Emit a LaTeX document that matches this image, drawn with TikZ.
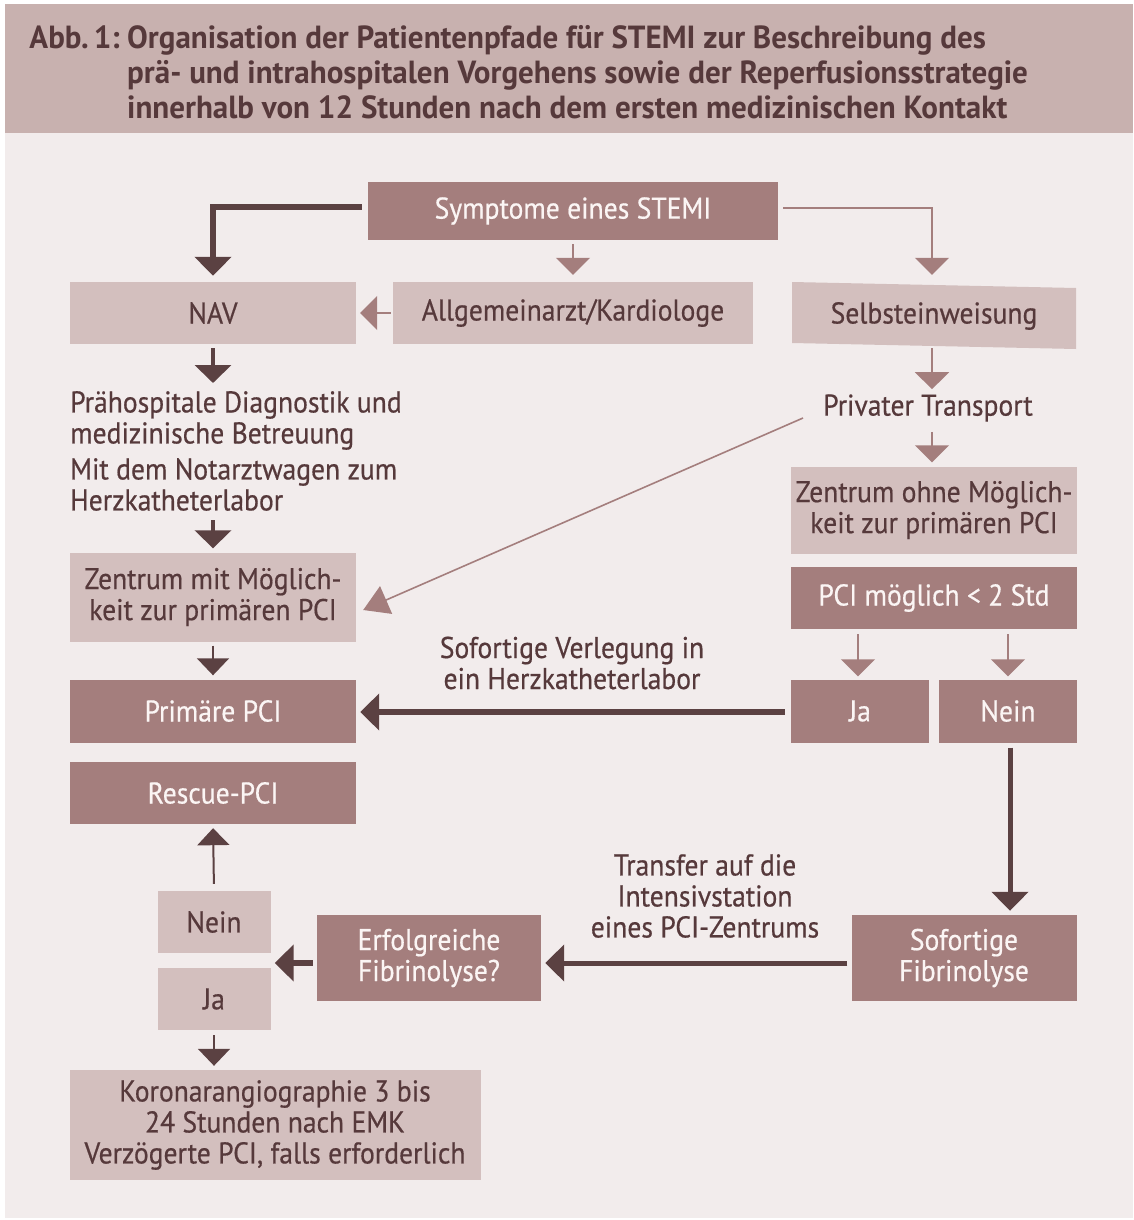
\documentclass[tikz,border=0pt]{standalone}
\usepackage{fontspec}
\setmainfont{PT Sans}[FakeStretch=0.92]
\newfontfamily\bodyfont{PT Sans}[FakeStretch=0.92, FakeBold=0.5]
\newfontfamily\titlefont{PT Sans Bold}[FakeStretch=0.97]
\usetikzlibrary{arrows.meta,calc}
\definecolor{bgc}{HTML}{F2ECEC}
\definecolor{headc}{HTML}{C8B1AF}
\definecolor{lightbox}{HTML}{D3BFBE}
\definecolor{darkbox}{HTML}{A47E7D}
\definecolor{darkarr}{HTML}{5B4142}
\definecolor{txt}{HTML}{56393B}
\definecolor{dtxt}{HTML}{FBF5F4}
\tikzset{
  box/.style={rectangle, inner sep=0pt, align=center, font=\bodyfont\fontsize{30}{31}\selectfont},
  lbox/.style={box, fill=lightbox, text=txt},
  dbox/.style={box, fill=darkbox, text=dtxt},
  plain/.style={inner sep=0pt, text=txt, font=\bodyfont\fontsize{30}{31}\selectfont},
  ttl/.style={anchor=base west, inner sep=0pt, text=txt, font=\titlefont\fontsize{32}{35}\selectfont},
  darrthick/.style={draw=darkarr, line width=6pt, -{Triangle[width=36pt,length=19pt]}},
  darrmid/.style={draw=darkarr, line width=4pt, -{Triangle[width=36pt,length=18pt]}},
  darrthin/.style={draw=darkarr, line width=2pt, -{Triangle[width=32pt,length=17pt]}},
  larr/.style={draw=darkbox, line width=1.6pt, -{Triangle[width=34pt,length=17pt]}},
}
\begin{document}
\begin{tikzpicture}[x=1pt,y=-1pt]
\useasboundingbox (0,0) rectangle (1133,1220);
\fill[white] (0,0) rectangle (1133,1220);
\fill[headc] (5,4) rectangle (1133,133);
\fill[bgc] (5,133) rectangle (1133,1218);

% title
\node[ttl, anchor=base east] (abb) at (120,49) {Abb.\kern5pt1:};
\node[ttl] (t1) at (127,49) {Organisation der Patientenpfade für STEMI zur Beschreibung des};
\node[ttl] (t2) at (127,84) {prä- und intrahospitalen Vorgehens sowie der Reperfusionsstrategie};
\node[ttl] (t3) at (127,119) {innerhalb von 12 Stunden nach dem ersten medizinischen Kontakt};

% nodes
\node[dbox, minimum width=410pt, minimum height=58pt] (sym) at (573,211) {Symptome eines STEMI};
\node[lbox, minimum width=286pt, minimum height=62pt] (nav) at (213,313) {NAV};
\node[lbox, minimum width=360pt, minimum height=62pt] (allg) at (573,313) {Allgemeinarzt/Kardiologe};
\fill[lightbox] (792,282) -- (1076,288) -- (1076,349) -- (792,343) -- cycle;
\node[box, text=txt, minimum width=284pt, minimum height=62pt] (sel) at (934,316) {Selbsteinweisung};

\node[plain, anchor=west, align=left] (prae) at (70,451)
 {Prähospitale Diagnostik und\\ medizinische Betreuung\\[5pt] Mit dem Notarztwagen zum\\ Herzkatheterlabor};
\node[plain] (priv) at (928,408) {Privater Transport};

\node[lbox, minimum width=286pt, minimum height=89pt] (zmit) at (213,597) {Zentrum mit Möglich-\\keit zur primären PCI};
\node[lbox, minimum width=286pt, minimum height=87pt] (zohne) at (934,510) {Zentrum ohne Möglich-\\keit zur primären PCI};
\node[dbox, minimum width=286pt, minimum height=62pt] (pcim) at (934,598) {PCI möglich < 2 Std};
\node[dbox, minimum width=286pt, minimum height=63pt] (prim) at (213,711) {Primäre PCI};
\node[dbox, minimum width=138pt, minimum height=63pt] (jar) at (860,711) {Ja};
\node[dbox, minimum width=138pt, minimum height=63pt] (neinr) at (1008,711) {Nein};
\node[dbox, minimum width=286pt, minimum height=62pt] (resc) at (213,793) {Rescue-PCI};
\node[lbox, minimum width=113pt, minimum height=62pt] (neinl) at (214,922) {Nein};
\node[lbox, minimum width=113pt, minimum height=62pt] (jal) at (214,999) {Ja};
\node[dbox, minimum width=224pt, minimum height=86pt] (erf) at (429,958) {Erfolgreiche\\Fibrinolyse?};
\node[dbox, minimum width=225pt, minimum height=86pt] (sof) at (964,958) {Sofortige\\Fibrinolyse};
\node[lbox, minimum width=411pt, minimum height=110pt] (koro) at (275,1125)
 {Koronarangiographie 3 bis\\24 Stunden nach EMK\\Verzögerte PCI, falls erforderlich};

\node[plain, align=center] (verl) at (572,663) {Sofortige Verlegung in\\ein Herzkatheterlabor};
\node[plain, align=center] (transf) at (705,896) {Transfer auf die\\Intensivstation\\eines PCI-Zentrums};

\coordinate (njgap) at ($(neinl.south east)!0.5!(jal.north east)$);

% connectors
\draw[darrthick, shorten >=6pt] ([yshift=4pt,xshift=-6pt]sym.west) -| (nav.north);
\draw[larr, shorten <=4pt, shorten >=7pt] (sym.south) -- (allg.north);
\draw[larr, shorten >=10pt] ([yshift=3pt,xshift=5pt]sym.east) -| ([xshift=-2pt]sel.north);
\draw[larr, shorten <=2pt, shorten >=4pt] (allg.west) -- (nav.east);
\draw[darrmid, shorten <=4pt] (nav.south) -- (70,383 -| nav.south);
\draw[darrmid, shorten >=4pt] (70,520 -| nav.south) -- (zmit.north);
\draw[darrthin, shorten <=4pt, shorten >=4pt] (zmit.south) -- (prim.north);
\draw[larr, -{Triangle[width=30pt,length=25pt]}] (803,418) -- ([xshift=7pt,yshift=-13pt]zmit.east);
\draw[larr, shorten <=1pt, shorten >=5pt] ([xshift=-2pt]sel.south) -- ([xshift=4pt]priv.north);
\draw[larr, shorten <=10pt, shorten >=4pt] ([xshift=4pt]priv.south) -- ([xshift=-2pt]zohne.north);
\draw[larr, shorten <=5pt, shorten >=3pt] ([xshift=-2pt]pcim.south -| jar.north) -- ([xshift=-2pt]jar.north);
\draw[larr, shorten <=5pt, shorten >=3pt] (pcim.south -| neinr.north) -- (neinr.north);
\draw[darrthick, shorten <=6pt, shorten >=4pt] ([yshift=-1pt]jar.west) -- ([yshift=-1pt]prim.east);
\draw[darrthick, line width=5pt, shorten <=5pt, shorten >=4pt] ([xshift=2pt]neinr.south) -- ([xshift=2pt]neinr.south |- sof.north);
\draw[darrthick, line width=5pt, shorten <=4pt, shorten >=4pt] ([yshift=-5pt]sof.west) -- ([yshift=-5pt]erf.west -| erf.east);
\draw[darrthick, shorten <=4pt, shorten >=4pt] ([yshift=-5pt]erf.west) -- ([yshift=-5pt]erf.west -| njgap);
\draw[darrthin, shorten <=7pt, shorten >=4pt] (neinl.north) -- (resc.south);
\draw[darrthin, shorten <=5pt, shorten >=4pt] (jal.south) -- (jal.south |- koro.north);
\end{tikzpicture}
\end{document}
